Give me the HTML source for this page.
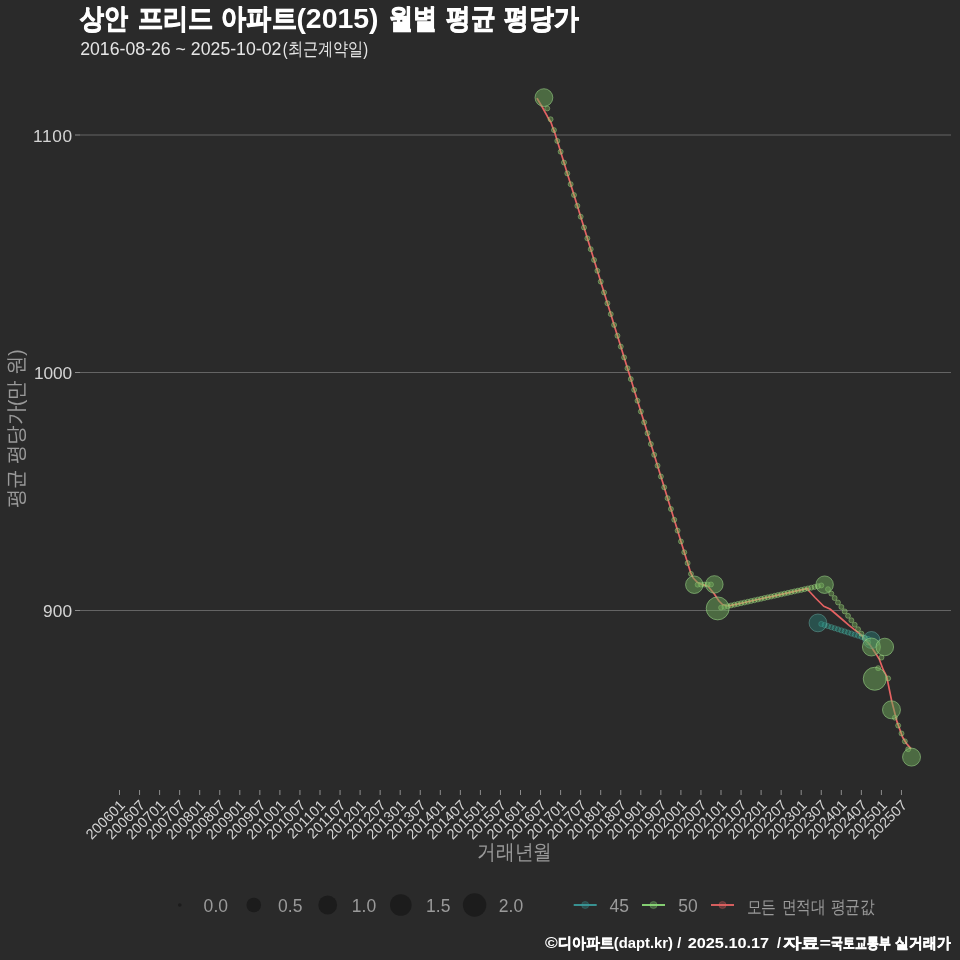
<!DOCTYPE html><html><head><meta charset="utf-8"><style>
html,body{margin:0;padding:0;background:#2a2a2a;width:960px;height:960px;overflow:hidden}
svg{display:block;will-change:transform}text{font-family:"Liberation Sans",sans-serif}
</style></head><body>
<svg width="960" height="960" viewBox="0 0 960 960">
<rect width="960" height="960" fill="#2a2a2a"/>
<text id="t0" x="80.20" y="28.30" font-size="27.5" font-weight="bold" fill="#ffffff" stroke="#ffffff" stroke-width="0.9" textLength="47.90" lengthAdjust="spacingAndGlyphs">상안</text>
<text id="t1" x="137.70" y="28.30" font-size="27.5" font-weight="bold" fill="#ffffff" stroke="#ffffff" stroke-width="0.9" textLength="75.60" lengthAdjust="spacingAndGlyphs">프리드</text>
<text id="t2" x="221.40" y="28.30" font-size="27.5" font-weight="bold" fill="#ffffff" stroke="#ffffff" stroke-width="0.9" textLength="75.20" lengthAdjust="spacingAndGlyphs">아파트</text>
<text id="t3" x="296.40" y="28.30" font-size="27.5" font-weight="bold" fill="#ffffff" textLength="82.20" lengthAdjust="spacingAndGlyphs">(2015)</text>
<text id="t4" x="388.60" y="28.30" font-size="27.5" font-weight="bold" fill="#ffffff" stroke="#ffffff" stroke-width="0.9" textLength="48.10" lengthAdjust="spacingAndGlyphs">월별</text>
<text id="t5" x="445.90" y="28.30" font-size="27.5" font-weight="bold" fill="#ffffff" stroke="#ffffff" stroke-width="0.9" textLength="49.30" lengthAdjust="spacingAndGlyphs">평균</text>
<text id="t6" x="504.30" y="28.30" font-size="27.5" font-weight="bold" fill="#ffffff" stroke="#ffffff" stroke-width="0.9" textLength="74.50" lengthAdjust="spacingAndGlyphs">평당가</text>
<text id="s0" x="80.20" y="54.50" font-size="17.5" fill="#e6e6e6" textLength="201.20" lengthAdjust="spacingAndGlyphs">2016-08-26 ~ 2025-10-02</text>
<text id="s1" x="282.70" y="54.50" font-size="17.5" fill="#e6e6e6" textLength="85.40" lengthAdjust="spacingAndGlyphs">(최근계약일)</text>
<line x1="80" x2="951" y1="135.00" y2="135.00" stroke="#646464" stroke-width="1"/>
<line x1="75" x2="80" y1="135.00" y2="135.00" stroke="#8c8c8c" stroke-width="1"/>
<line x1="80" x2="951" y1="372.50" y2="372.50" stroke="#646464" stroke-width="1"/>
<line x1="75" x2="80" y1="372.50" y2="372.50" stroke="#8c8c8c" stroke-width="1"/>
<line x1="80" x2="951" y1="610.50" y2="610.50" stroke="#646464" stroke-width="1"/>
<line x1="75" x2="80" y1="610.50" y2="610.50" stroke="#8c8c8c" stroke-width="1"/>
<text id="y1100" x="33.00" y="141.80" font-size="17.3" fill="#d4d4d4" textLength="39">1100</text>
<text id="y1000" x="34.00" y="379.30" font-size="17.3" fill="#d4d4d4" textLength="38">1000</text>
<text id="y900" x="43.00" y="617.30" font-size="17.3" fill="#d4d4d4" textLength="29">900</text>
<g transform="translate(23.2,0) rotate(-90)">
<text id="yt0" x="-508.40" y="0.00" font-size="20.5" fill="#9a9a9a" textLength="159.00" lengthAdjust="spacingAndGlyphs">평균 평당가(만 원)</text>
</g>
<line x1="119.50" x2="119.50" y1="790" y2="795" stroke="#8c8c8c" stroke-width="1"/>
<text id="xl0" transform="translate(126.00,806) rotate(-45)" font-size="14.5" fill="#d4d4d4" text-anchor="end">200601</text>
<line x1="139.55" x2="139.55" y1="790" y2="795" stroke="#8c8c8c" stroke-width="1"/>
<text id="xl1" transform="translate(146.05,806) rotate(-45)" font-size="14.5" fill="#d4d4d4" text-anchor="end">200607</text>
<line x1="159.60" x2="159.60" y1="790" y2="795" stroke="#8c8c8c" stroke-width="1"/>
<text id="xl2" transform="translate(166.10,806) rotate(-45)" font-size="14.5" fill="#d4d4d4" text-anchor="end">200701</text>
<line x1="179.65" x2="179.65" y1="790" y2="795" stroke="#8c8c8c" stroke-width="1"/>
<text id="xl3" transform="translate(186.15,806) rotate(-45)" font-size="14.5" fill="#d4d4d4" text-anchor="end">200707</text>
<line x1="199.70" x2="199.70" y1="790" y2="795" stroke="#8c8c8c" stroke-width="1"/>
<text id="xl4" transform="translate(206.20,806) rotate(-45)" font-size="14.5" fill="#d4d4d4" text-anchor="end">200801</text>
<line x1="219.75" x2="219.75" y1="790" y2="795" stroke="#8c8c8c" stroke-width="1"/>
<text id="xl5" transform="translate(226.25,806) rotate(-45)" font-size="14.5" fill="#d4d4d4" text-anchor="end">200807</text>
<line x1="239.80" x2="239.80" y1="790" y2="795" stroke="#8c8c8c" stroke-width="1"/>
<text id="xl6" transform="translate(246.30,806) rotate(-45)" font-size="14.5" fill="#d4d4d4" text-anchor="end">200901</text>
<line x1="259.85" x2="259.85" y1="790" y2="795" stroke="#8c8c8c" stroke-width="1"/>
<text id="xl7" transform="translate(266.35,806) rotate(-45)" font-size="14.5" fill="#d4d4d4" text-anchor="end">200907</text>
<line x1="279.90" x2="279.90" y1="790" y2="795" stroke="#8c8c8c" stroke-width="1"/>
<text id="xl8" transform="translate(286.40,806) rotate(-45)" font-size="14.5" fill="#d4d4d4" text-anchor="end">201001</text>
<line x1="299.95" x2="299.95" y1="790" y2="795" stroke="#8c8c8c" stroke-width="1"/>
<text id="xl9" transform="translate(306.45,806) rotate(-45)" font-size="14.5" fill="#d4d4d4" text-anchor="end">201007</text>
<line x1="320.00" x2="320.00" y1="790" y2="795" stroke="#8c8c8c" stroke-width="1"/>
<text id="xl10" transform="translate(326.50,806) rotate(-45)" font-size="14.5" fill="#d4d4d4" text-anchor="end">201101</text>
<line x1="340.05" x2="340.05" y1="790" y2="795" stroke="#8c8c8c" stroke-width="1"/>
<text id="xl11" transform="translate(346.55,806) rotate(-45)" font-size="14.5" fill="#d4d4d4" text-anchor="end">201107</text>
<line x1="360.10" x2="360.10" y1="790" y2="795" stroke="#8c8c8c" stroke-width="1"/>
<text id="xl12" transform="translate(366.60,806) rotate(-45)" font-size="14.5" fill="#d4d4d4" text-anchor="end">201201</text>
<line x1="380.15" x2="380.15" y1="790" y2="795" stroke="#8c8c8c" stroke-width="1"/>
<text id="xl13" transform="translate(386.65,806) rotate(-45)" font-size="14.5" fill="#d4d4d4" text-anchor="end">201207</text>
<line x1="400.20" x2="400.20" y1="790" y2="795" stroke="#8c8c8c" stroke-width="1"/>
<text id="xl14" transform="translate(406.70,806) rotate(-45)" font-size="14.5" fill="#d4d4d4" text-anchor="end">201301</text>
<line x1="420.25" x2="420.25" y1="790" y2="795" stroke="#8c8c8c" stroke-width="1"/>
<text id="xl15" transform="translate(426.75,806) rotate(-45)" font-size="14.5" fill="#d4d4d4" text-anchor="end">201307</text>
<line x1="440.30" x2="440.30" y1="790" y2="795" stroke="#8c8c8c" stroke-width="1"/>
<text id="xl16" transform="translate(446.80,806) rotate(-45)" font-size="14.5" fill="#d4d4d4" text-anchor="end">201401</text>
<line x1="460.35" x2="460.35" y1="790" y2="795" stroke="#8c8c8c" stroke-width="1"/>
<text id="xl17" transform="translate(466.85,806) rotate(-45)" font-size="14.5" fill="#d4d4d4" text-anchor="end">201407</text>
<line x1="480.40" x2="480.40" y1="790" y2="795" stroke="#8c8c8c" stroke-width="1"/>
<text id="xl18" transform="translate(486.90,806) rotate(-45)" font-size="14.5" fill="#d4d4d4" text-anchor="end">201501</text>
<line x1="500.45" x2="500.45" y1="790" y2="795" stroke="#8c8c8c" stroke-width="1"/>
<text id="xl19" transform="translate(506.95,806) rotate(-45)" font-size="14.5" fill="#d4d4d4" text-anchor="end">201507</text>
<line x1="520.50" x2="520.50" y1="790" y2="795" stroke="#8c8c8c" stroke-width="1"/>
<text id="xl20" transform="translate(527.00,806) rotate(-45)" font-size="14.5" fill="#d4d4d4" text-anchor="end">201601</text>
<line x1="540.55" x2="540.55" y1="790" y2="795" stroke="#8c8c8c" stroke-width="1"/>
<text id="xl21" transform="translate(547.05,806) rotate(-45)" font-size="14.5" fill="#d4d4d4" text-anchor="end">201607</text>
<line x1="560.60" x2="560.60" y1="790" y2="795" stroke="#8c8c8c" stroke-width="1"/>
<text id="xl22" transform="translate(567.10,806) rotate(-45)" font-size="14.5" fill="#d4d4d4" text-anchor="end">201701</text>
<line x1="580.65" x2="580.65" y1="790" y2="795" stroke="#8c8c8c" stroke-width="1"/>
<text id="xl23" transform="translate(587.15,806) rotate(-45)" font-size="14.5" fill="#d4d4d4" text-anchor="end">201707</text>
<line x1="600.70" x2="600.70" y1="790" y2="795" stroke="#8c8c8c" stroke-width="1"/>
<text id="xl24" transform="translate(607.20,806) rotate(-45)" font-size="14.5" fill="#d4d4d4" text-anchor="end">201801</text>
<line x1="620.75" x2="620.75" y1="790" y2="795" stroke="#8c8c8c" stroke-width="1"/>
<text id="xl25" transform="translate(627.25,806) rotate(-45)" font-size="14.5" fill="#d4d4d4" text-anchor="end">201807</text>
<line x1="640.80" x2="640.80" y1="790" y2="795" stroke="#8c8c8c" stroke-width="1"/>
<text id="xl26" transform="translate(647.30,806) rotate(-45)" font-size="14.5" fill="#d4d4d4" text-anchor="end">201901</text>
<line x1="660.85" x2="660.85" y1="790" y2="795" stroke="#8c8c8c" stroke-width="1"/>
<text id="xl27" transform="translate(667.35,806) rotate(-45)" font-size="14.5" fill="#d4d4d4" text-anchor="end">201907</text>
<line x1="680.90" x2="680.90" y1="790" y2="795" stroke="#8c8c8c" stroke-width="1"/>
<text id="xl28" transform="translate(687.40,806) rotate(-45)" font-size="14.5" fill="#d4d4d4" text-anchor="end">202001</text>
<line x1="700.95" x2="700.95" y1="790" y2="795" stroke="#8c8c8c" stroke-width="1"/>
<text id="xl29" transform="translate(707.45,806) rotate(-45)" font-size="14.5" fill="#d4d4d4" text-anchor="end">202007</text>
<line x1="721.00" x2="721.00" y1="790" y2="795" stroke="#8c8c8c" stroke-width="1"/>
<text id="xl30" transform="translate(727.50,806) rotate(-45)" font-size="14.5" fill="#d4d4d4" text-anchor="end">202101</text>
<line x1="741.05" x2="741.05" y1="790" y2="795" stroke="#8c8c8c" stroke-width="1"/>
<text id="xl31" transform="translate(747.55,806) rotate(-45)" font-size="14.5" fill="#d4d4d4" text-anchor="end">202107</text>
<line x1="761.10" x2="761.10" y1="790" y2="795" stroke="#8c8c8c" stroke-width="1"/>
<text id="xl32" transform="translate(767.60,806) rotate(-45)" font-size="14.5" fill="#d4d4d4" text-anchor="end">202201</text>
<line x1="781.15" x2="781.15" y1="790" y2="795" stroke="#8c8c8c" stroke-width="1"/>
<text id="xl33" transform="translate(787.65,806) rotate(-45)" font-size="14.5" fill="#d4d4d4" text-anchor="end">202207</text>
<line x1="801.20" x2="801.20" y1="790" y2="795" stroke="#8c8c8c" stroke-width="1"/>
<text id="xl34" transform="translate(807.70,806) rotate(-45)" font-size="14.5" fill="#d4d4d4" text-anchor="end">202301</text>
<line x1="821.25" x2="821.25" y1="790" y2="795" stroke="#8c8c8c" stroke-width="1"/>
<text id="xl35" transform="translate(827.75,806) rotate(-45)" font-size="14.5" fill="#d4d4d4" text-anchor="end">202307</text>
<line x1="841.30" x2="841.30" y1="790" y2="795" stroke="#8c8c8c" stroke-width="1"/>
<text id="xl36" transform="translate(847.80,806) rotate(-45)" font-size="14.5" fill="#d4d4d4" text-anchor="end">202401</text>
<line x1="861.35" x2="861.35" y1="790" y2="795" stroke="#8c8c8c" stroke-width="1"/>
<text id="xl37" transform="translate(867.85,806) rotate(-45)" font-size="14.5" fill="#d4d4d4" text-anchor="end">202407</text>
<line x1="881.40" x2="881.40" y1="790" y2="795" stroke="#8c8c8c" stroke-width="1"/>
<text id="xl38" transform="translate(887.90,806) rotate(-45)" font-size="14.5" fill="#d4d4d4" text-anchor="end">202501</text>
<line x1="901.45" x2="901.45" y1="790" y2="795" stroke="#8c8c8c" stroke-width="1"/>
<text id="xl39" transform="translate(907.95,806) rotate(-45)" font-size="14.5" fill="#d4d4d4" text-anchor="end">202507</text>
<text id="xt0" x="477.00" y="859.00" font-size="20.5" fill="#9a9a9a" textLength="75.00" lengthAdjust="spacingAndGlyphs">거래년월</text>
<circle cx="179.80" cy="905" r="1.80" fill="#1c1c1c"/>
<text id="ls00" x="203.60" y="912.3" font-size="17.5" fill="#9a9a9a" textLength="24.5">0.0</text>
<circle cx="253.75" cy="905" r="7.30" fill="#1c1c1c"/>
<text id="ls05" x="277.95" y="912.3" font-size="17.5" fill="#9a9a9a" textLength="24.5">0.5</text>
<circle cx="327.70" cy="905" r="9.40" fill="#1c1c1c"/>
<text id="ls10" x="351.70" y="912.3" font-size="17.5" fill="#9a9a9a" textLength="24.5">1.0</text>
<circle cx="400.80" cy="905" r="10.80" fill="#1c1c1c"/>
<text id="ls15" x="425.90" y="912.3" font-size="17.5" fill="#9a9a9a" textLength="24.5">1.5</text>
<circle cx="474.60" cy="905" r="11.70" fill="#1c1c1c"/>
<text id="ls20" x="498.80" y="912.3" font-size="17.5" fill="#9a9a9a" textLength="24.5">2.0</text>
<circle cx="585.20" cy="905" r="3.6" fill="#3a9c9c" fill-opacity="0.3" stroke="#3a9c9c" stroke-opacity="0.35" stroke-width="0.8"/>
<line x1="573.70" x2="596.70" y1="905" y2="905" stroke="#3a9c9c" stroke-width="2" stroke-opacity="0.9"/>
<text id="lc573" x="609.50" y="912.3" font-size="17.5" fill="#9a9a9a" textLength="19.5">45</text>
<circle cx="653.50" cy="905" r="3.6" fill="#8ee07a" fill-opacity="0.3" stroke="#8ee07a" stroke-opacity="0.35" stroke-width="0.8"/>
<line x1="642.00" x2="665.00" y1="905" y2="905" stroke="#8ee07a" stroke-width="2" stroke-opacity="0.9"/>
<text id="lc642" x="678.30" y="912.3" font-size="17.5" fill="#9a9a9a" textLength="19.5">50</text>
<circle cx="722.5" cy="905" r="3.6" fill="#e86464" fill-opacity="0.3" stroke="#e86464" stroke-opacity="0.35" stroke-width="0.8"/>
<line x1="711" x2="734" y1="905" y2="905" stroke="#e86464" stroke-width="2" stroke-opacity="0.9"/>
<text id="lr0" x="746.70" y="912.50" font-size="17.5" fill="#9a9a9a" textLength="29.60" lengthAdjust="spacingAndGlyphs">모든</text>
<text id="lr1" x="781.70" y="912.50" font-size="17.5" fill="#9a9a9a" textLength="44.20" lengthAdjust="spacingAndGlyphs">면적대</text>
<text id="lr2" x="830.50" y="912.50" font-size="17.5" fill="#9a9a9a" textLength="44.30" lengthAdjust="spacingAndGlyphs">평균값</text>
<text id="c0" x="544.90" y="948.30" font-size="14.5" font-weight="bold" fill="#ffffff" textLength="12.70" lengthAdjust="spacingAndGlyphs">©</text>
<text id="c1" x="558.00" y="948.30" font-size="14.5" font-weight="bold" fill="#ffffff" stroke="#ffffff" stroke-width="0.5" textLength="55.90" lengthAdjust="spacingAndGlyphs">디아파트</text>
<text id="c2" x="613.80" y="948.30" font-size="14.5" font-weight="bold" fill="#ffffff" textLength="59.20" lengthAdjust="spacingAndGlyphs">(dapt.kr)</text>
<text id="c3" x="677.20" y="948.30" font-size="14.5" font-weight="bold" fill="#ffffff">/</text>
<text id="c4" x="687.70" y="948.30" font-size="14.5" font-weight="bold" fill="#ffffff" textLength="81.50" lengthAdjust="spacingAndGlyphs">2025.10.17</text>
<text id="c5" x="777.10" y="948.30" font-size="14.5" font-weight="bold" fill="#ffffff">/</text>
<text id="c6" x="782.90" y="948.30" font-size="14.5" font-weight="bold" fill="#ffffff" stroke="#ffffff" stroke-width="0.5" textLength="36.70" lengthAdjust="spacingAndGlyphs">자료</text>
<text id="c7" x="819.60" y="948.30" font-size="14.5" font-weight="bold" fill="#ffffff" textLength="11.50" lengthAdjust="spacingAndGlyphs">=</text>
<text id="c8" x="831.10" y="948.30" font-size="14.5" font-weight="bold" fill="#ffffff" stroke="#ffffff" stroke-width="0.5" textLength="59.50" lengthAdjust="spacingAndGlyphs">국토교통부</text>
<text id="c9" x="895.20" y="948.30" font-size="14.5" font-weight="bold" fill="#ffffff" stroke="#ffffff" stroke-width="0.5" textLength="55.10" lengthAdjust="spacingAndGlyphs">실거래가</text>
<polyline fill="none" stroke="#e46262" stroke-width="1.7" stroke-linejoin="round" stroke-linecap="round" points="537.30,98.75 542.50,107.50 547.50,116.70 551.00,122.50 554.50,132.50 553.94,130.08 557.29,140.90 560.63,151.73 563.97,162.55 567.31,173.38 570.65,184.20 574.00,195.03 577.34,205.86 580.68,216.68 584.02,227.51 587.36,238.33 590.71,249.16 594.05,259.98 597.39,270.81 600.73,281.63 604.07,292.46 607.41,303.29 610.76,314.11 614.10,324.94 617.44,335.76 620.78,346.59 624.12,357.41 627.47,368.24 630.81,379.06 634.15,389.89 637.49,400.72 640.83,411.54 644.18,422.37 647.52,433.19 650.86,444.02 654.20,454.84 657.54,465.67 660.88,476.49 664.23,487.32 667.57,498.15 670.91,508.97 674.25,519.80 677.59,530.62 680.94,541.45 684.28,552.27 687.62,563.10 690.60,572.50 693.20,578.00 697.50,582.50 702.00,584.60 707.50,585.80 714.00,593.50 719.00,601.00 722.50,604.50 726.00,605.80 731.06,605.44 734.41,604.70 737.75,603.96 741.09,603.22 744.43,602.48 747.77,601.73 751.12,600.99 754.46,600.25 757.80,599.51 761.14,598.77 764.48,598.03 767.82,597.29 771.17,596.55 774.51,595.81 777.85,595.07 781.19,594.33 784.53,593.59 787.88,592.85 791.22,592.11 794.56,591.37 797.90,590.62 801.24,589.88 804.59,589.14 807.93,588.40 808.10,590.00 815.00,597.50 823.75,606.25 830.00,609.00 840.00,617.50 849.40,625.60 862.00,635.60 870.00,645.00 876.00,653.90 879.20,659.00 883.30,670.00 886.60,676.20 891.70,701.00 896.90,721.40 902.70,737.50 906.50,743.50 910.70,748.40"/>
<circle cx="821.29" cy="623.97" r="2.6" fill="rgb(40,150,135)" fill-opacity="0.35" stroke="rgb(90,180,165)" stroke-opacity="0.45" stroke-width="0.8"/>
<circle cx="824.64" cy="625.04" r="2.6" fill="rgb(40,150,135)" fill-opacity="0.35" stroke="rgb(90,180,165)" stroke-opacity="0.45" stroke-width="0.8"/>
<circle cx="827.98" cy="626.11" r="2.6" fill="rgb(40,150,135)" fill-opacity="0.35" stroke="rgb(90,180,165)" stroke-opacity="0.45" stroke-width="0.8"/>
<circle cx="831.32" cy="627.17" r="2.6" fill="rgb(40,150,135)" fill-opacity="0.35" stroke="rgb(90,180,165)" stroke-opacity="0.45" stroke-width="0.8"/>
<circle cx="834.66" cy="628.24" r="2.6" fill="rgb(40,150,135)" fill-opacity="0.35" stroke="rgb(90,180,165)" stroke-opacity="0.45" stroke-width="0.8"/>
<circle cx="838.00" cy="629.31" r="2.6" fill="rgb(40,150,135)" fill-opacity="0.35" stroke="rgb(90,180,165)" stroke-opacity="0.45" stroke-width="0.8"/>
<circle cx="841.35" cy="630.38" r="2.6" fill="rgb(40,150,135)" fill-opacity="0.35" stroke="rgb(90,180,165)" stroke-opacity="0.45" stroke-width="0.8"/>
<circle cx="844.69" cy="631.45" r="2.6" fill="rgb(40,150,135)" fill-opacity="0.35" stroke="rgb(90,180,165)" stroke-opacity="0.45" stroke-width="0.8"/>
<circle cx="848.03" cy="632.52" r="2.6" fill="rgb(40,150,135)" fill-opacity="0.35" stroke="rgb(90,180,165)" stroke-opacity="0.45" stroke-width="0.8"/>
<circle cx="851.37" cy="633.59" r="2.6" fill="rgb(40,150,135)" fill-opacity="0.35" stroke="rgb(90,180,165)" stroke-opacity="0.45" stroke-width="0.8"/>
<circle cx="854.71" cy="634.66" r="2.6" fill="rgb(40,150,135)" fill-opacity="0.35" stroke="rgb(90,180,165)" stroke-opacity="0.45" stroke-width="0.8"/>
<circle cx="858.06" cy="635.73" r="2.6" fill="rgb(40,150,135)" fill-opacity="0.35" stroke="rgb(90,180,165)" stroke-opacity="0.45" stroke-width="0.8"/>
<circle cx="861.40" cy="636.79" r="2.6" fill="rgb(40,150,135)" fill-opacity="0.35" stroke="rgb(90,180,165)" stroke-opacity="0.45" stroke-width="0.8"/>
<circle cx="864.74" cy="637.86" r="2.6" fill="rgb(40,150,135)" fill-opacity="0.35" stroke="rgb(90,180,165)" stroke-opacity="0.45" stroke-width="0.8"/>
<circle cx="868.08" cy="638.93" r="2.6" fill="rgb(40,150,135)" fill-opacity="0.35" stroke="rgb(90,180,165)" stroke-opacity="0.45" stroke-width="0.8"/>
<circle cx="547.26" cy="108.43" r="2.5" fill="rgb(140,210,100)" fill-opacity="0.35" stroke="rgb(165,220,135)" stroke-opacity="0.55" stroke-width="0.8"/>
<circle cx="550.60" cy="119.25" r="2.5" fill="rgb(140,210,100)" fill-opacity="0.35" stroke="rgb(165,220,135)" stroke-opacity="0.55" stroke-width="0.8"/>
<circle cx="553.94" cy="130.08" r="2.5" fill="rgb(140,210,100)" fill-opacity="0.35" stroke="rgb(165,220,135)" stroke-opacity="0.55" stroke-width="0.8"/>
<circle cx="557.29" cy="140.90" r="2.5" fill="rgb(140,210,100)" fill-opacity="0.35" stroke="rgb(165,220,135)" stroke-opacity="0.55" stroke-width="0.8"/>
<circle cx="560.63" cy="151.73" r="2.5" fill="rgb(140,210,100)" fill-opacity="0.35" stroke="rgb(165,220,135)" stroke-opacity="0.55" stroke-width="0.8"/>
<circle cx="563.97" cy="162.55" r="2.5" fill="rgb(140,210,100)" fill-opacity="0.35" stroke="rgb(165,220,135)" stroke-opacity="0.55" stroke-width="0.8"/>
<circle cx="567.31" cy="173.38" r="2.5" fill="rgb(140,210,100)" fill-opacity="0.35" stroke="rgb(165,220,135)" stroke-opacity="0.55" stroke-width="0.8"/>
<circle cx="570.65" cy="184.20" r="2.5" fill="rgb(140,210,100)" fill-opacity="0.35" stroke="rgb(165,220,135)" stroke-opacity="0.55" stroke-width="0.8"/>
<circle cx="574.00" cy="195.03" r="2.5" fill="rgb(140,210,100)" fill-opacity="0.35" stroke="rgb(165,220,135)" stroke-opacity="0.55" stroke-width="0.8"/>
<circle cx="577.34" cy="205.86" r="2.5" fill="rgb(140,210,100)" fill-opacity="0.35" stroke="rgb(165,220,135)" stroke-opacity="0.55" stroke-width="0.8"/>
<circle cx="580.68" cy="216.68" r="2.5" fill="rgb(140,210,100)" fill-opacity="0.35" stroke="rgb(165,220,135)" stroke-opacity="0.55" stroke-width="0.8"/>
<circle cx="584.02" cy="227.51" r="2.5" fill="rgb(140,210,100)" fill-opacity="0.35" stroke="rgb(165,220,135)" stroke-opacity="0.55" stroke-width="0.8"/>
<circle cx="587.36" cy="238.33" r="2.5" fill="rgb(140,210,100)" fill-opacity="0.35" stroke="rgb(165,220,135)" stroke-opacity="0.55" stroke-width="0.8"/>
<circle cx="590.71" cy="249.16" r="2.5" fill="rgb(140,210,100)" fill-opacity="0.35" stroke="rgb(165,220,135)" stroke-opacity="0.55" stroke-width="0.8"/>
<circle cx="594.05" cy="259.98" r="2.5" fill="rgb(140,210,100)" fill-opacity="0.35" stroke="rgb(165,220,135)" stroke-opacity="0.55" stroke-width="0.8"/>
<circle cx="597.39" cy="270.81" r="2.5" fill="rgb(140,210,100)" fill-opacity="0.35" stroke="rgb(165,220,135)" stroke-opacity="0.55" stroke-width="0.8"/>
<circle cx="600.73" cy="281.63" r="2.5" fill="rgb(140,210,100)" fill-opacity="0.35" stroke="rgb(165,220,135)" stroke-opacity="0.55" stroke-width="0.8"/>
<circle cx="604.07" cy="292.46" r="2.5" fill="rgb(140,210,100)" fill-opacity="0.35" stroke="rgb(165,220,135)" stroke-opacity="0.55" stroke-width="0.8"/>
<circle cx="607.41" cy="303.29" r="2.5" fill="rgb(140,210,100)" fill-opacity="0.35" stroke="rgb(165,220,135)" stroke-opacity="0.55" stroke-width="0.8"/>
<circle cx="610.76" cy="314.11" r="2.5" fill="rgb(140,210,100)" fill-opacity="0.35" stroke="rgb(165,220,135)" stroke-opacity="0.55" stroke-width="0.8"/>
<circle cx="614.10" cy="324.94" r="2.5" fill="rgb(140,210,100)" fill-opacity="0.35" stroke="rgb(165,220,135)" stroke-opacity="0.55" stroke-width="0.8"/>
<circle cx="617.44" cy="335.76" r="2.5" fill="rgb(140,210,100)" fill-opacity="0.35" stroke="rgb(165,220,135)" stroke-opacity="0.55" stroke-width="0.8"/>
<circle cx="620.78" cy="346.59" r="2.5" fill="rgb(140,210,100)" fill-opacity="0.35" stroke="rgb(165,220,135)" stroke-opacity="0.55" stroke-width="0.8"/>
<circle cx="624.12" cy="357.41" r="2.5" fill="rgb(140,210,100)" fill-opacity="0.35" stroke="rgb(165,220,135)" stroke-opacity="0.55" stroke-width="0.8"/>
<circle cx="627.47" cy="368.24" r="2.5" fill="rgb(140,210,100)" fill-opacity="0.35" stroke="rgb(165,220,135)" stroke-opacity="0.55" stroke-width="0.8"/>
<circle cx="630.81" cy="379.06" r="2.5" fill="rgb(140,210,100)" fill-opacity="0.35" stroke="rgb(165,220,135)" stroke-opacity="0.55" stroke-width="0.8"/>
<circle cx="634.15" cy="389.89" r="2.5" fill="rgb(140,210,100)" fill-opacity="0.35" stroke="rgb(165,220,135)" stroke-opacity="0.55" stroke-width="0.8"/>
<circle cx="637.49" cy="400.72" r="2.5" fill="rgb(140,210,100)" fill-opacity="0.35" stroke="rgb(165,220,135)" stroke-opacity="0.55" stroke-width="0.8"/>
<circle cx="640.83" cy="411.54" r="2.5" fill="rgb(140,210,100)" fill-opacity="0.35" stroke="rgb(165,220,135)" stroke-opacity="0.55" stroke-width="0.8"/>
<circle cx="644.18" cy="422.37" r="2.5" fill="rgb(140,210,100)" fill-opacity="0.35" stroke="rgb(165,220,135)" stroke-opacity="0.55" stroke-width="0.8"/>
<circle cx="647.52" cy="433.19" r="2.5" fill="rgb(140,210,100)" fill-opacity="0.35" stroke="rgb(165,220,135)" stroke-opacity="0.55" stroke-width="0.8"/>
<circle cx="650.86" cy="444.02" r="2.5" fill="rgb(140,210,100)" fill-opacity="0.35" stroke="rgb(165,220,135)" stroke-opacity="0.55" stroke-width="0.8"/>
<circle cx="654.20" cy="454.84" r="2.5" fill="rgb(140,210,100)" fill-opacity="0.35" stroke="rgb(165,220,135)" stroke-opacity="0.55" stroke-width="0.8"/>
<circle cx="657.54" cy="465.67" r="2.5" fill="rgb(140,210,100)" fill-opacity="0.35" stroke="rgb(165,220,135)" stroke-opacity="0.55" stroke-width="0.8"/>
<circle cx="660.88" cy="476.49" r="2.5" fill="rgb(140,210,100)" fill-opacity="0.35" stroke="rgb(165,220,135)" stroke-opacity="0.55" stroke-width="0.8"/>
<circle cx="664.23" cy="487.32" r="2.5" fill="rgb(140,210,100)" fill-opacity="0.35" stroke="rgb(165,220,135)" stroke-opacity="0.55" stroke-width="0.8"/>
<circle cx="667.57" cy="498.15" r="2.5" fill="rgb(140,210,100)" fill-opacity="0.35" stroke="rgb(165,220,135)" stroke-opacity="0.55" stroke-width="0.8"/>
<circle cx="670.91" cy="508.97" r="2.5" fill="rgb(140,210,100)" fill-opacity="0.35" stroke="rgb(165,220,135)" stroke-opacity="0.55" stroke-width="0.8"/>
<circle cx="674.25" cy="519.80" r="2.5" fill="rgb(140,210,100)" fill-opacity="0.35" stroke="rgb(165,220,135)" stroke-opacity="0.55" stroke-width="0.8"/>
<circle cx="677.59" cy="530.62" r="2.5" fill="rgb(140,210,100)" fill-opacity="0.35" stroke="rgb(165,220,135)" stroke-opacity="0.55" stroke-width="0.8"/>
<circle cx="680.94" cy="541.45" r="2.5" fill="rgb(140,210,100)" fill-opacity="0.35" stroke="rgb(165,220,135)" stroke-opacity="0.55" stroke-width="0.8"/>
<circle cx="684.28" cy="552.27" r="2.5" fill="rgb(140,210,100)" fill-opacity="0.35" stroke="rgb(165,220,135)" stroke-opacity="0.55" stroke-width="0.8"/>
<circle cx="687.62" cy="563.10" r="2.5" fill="rgb(140,210,100)" fill-opacity="0.35" stroke="rgb(165,220,135)" stroke-opacity="0.55" stroke-width="0.8"/>
<circle cx="690.96" cy="573.92" r="2.5" fill="rgb(140,210,100)" fill-opacity="0.35" stroke="rgb(165,220,135)" stroke-opacity="0.55" stroke-width="0.8"/>
<circle cx="697.65" cy="584.69" r="2.5" fill="rgb(140,210,100)" fill-opacity="0.35" stroke="rgb(165,220,135)" stroke-opacity="0.55" stroke-width="0.8"/>
<circle cx="700.99" cy="584.63" r="2.5" fill="rgb(140,210,100)" fill-opacity="0.35" stroke="rgb(165,220,135)" stroke-opacity="0.55" stroke-width="0.8"/>
<circle cx="704.33" cy="584.58" r="2.5" fill="rgb(140,210,100)" fill-opacity="0.35" stroke="rgb(165,220,135)" stroke-opacity="0.55" stroke-width="0.8"/>
<circle cx="707.67" cy="584.52" r="2.5" fill="rgb(140,210,100)" fill-opacity="0.35" stroke="rgb(165,220,135)" stroke-opacity="0.55" stroke-width="0.8"/>
<circle cx="711.01" cy="584.46" r="2.5" fill="rgb(140,210,100)" fill-opacity="0.35" stroke="rgb(165,220,135)" stroke-opacity="0.55" stroke-width="0.8"/>
<circle cx="721.04" cy="607.66" r="2.5" fill="rgb(140,210,100)" fill-opacity="0.35" stroke="rgb(165,220,135)" stroke-opacity="0.55" stroke-width="0.8"/>
<circle cx="724.38" cy="606.92" r="2.5" fill="rgb(140,210,100)" fill-opacity="0.35" stroke="rgb(165,220,135)" stroke-opacity="0.55" stroke-width="0.8"/>
<circle cx="727.72" cy="606.18" r="2.5" fill="rgb(140,210,100)" fill-opacity="0.35" stroke="rgb(165,220,135)" stroke-opacity="0.55" stroke-width="0.8"/>
<circle cx="731.06" cy="605.44" r="2.5" fill="rgb(140,210,100)" fill-opacity="0.35" stroke="rgb(165,220,135)" stroke-opacity="0.55" stroke-width="0.8"/>
<circle cx="734.41" cy="604.70" r="2.5" fill="rgb(140,210,100)" fill-opacity="0.35" stroke="rgb(165,220,135)" stroke-opacity="0.55" stroke-width="0.8"/>
<circle cx="737.75" cy="603.96" r="2.5" fill="rgb(140,210,100)" fill-opacity="0.35" stroke="rgb(165,220,135)" stroke-opacity="0.55" stroke-width="0.8"/>
<circle cx="741.09" cy="603.22" r="2.5" fill="rgb(140,210,100)" fill-opacity="0.35" stroke="rgb(165,220,135)" stroke-opacity="0.55" stroke-width="0.8"/>
<circle cx="744.43" cy="602.48" r="2.5" fill="rgb(140,210,100)" fill-opacity="0.35" stroke="rgb(165,220,135)" stroke-opacity="0.55" stroke-width="0.8"/>
<circle cx="747.77" cy="601.73" r="2.5" fill="rgb(140,210,100)" fill-opacity="0.35" stroke="rgb(165,220,135)" stroke-opacity="0.55" stroke-width="0.8"/>
<circle cx="751.12" cy="600.99" r="2.5" fill="rgb(140,210,100)" fill-opacity="0.35" stroke="rgb(165,220,135)" stroke-opacity="0.55" stroke-width="0.8"/>
<circle cx="754.46" cy="600.25" r="2.5" fill="rgb(140,210,100)" fill-opacity="0.35" stroke="rgb(165,220,135)" stroke-opacity="0.55" stroke-width="0.8"/>
<circle cx="757.80" cy="599.51" r="2.5" fill="rgb(140,210,100)" fill-opacity="0.35" stroke="rgb(165,220,135)" stroke-opacity="0.55" stroke-width="0.8"/>
<circle cx="761.14" cy="598.77" r="2.5" fill="rgb(140,210,100)" fill-opacity="0.35" stroke="rgb(165,220,135)" stroke-opacity="0.55" stroke-width="0.8"/>
<circle cx="764.48" cy="598.03" r="2.5" fill="rgb(140,210,100)" fill-opacity="0.35" stroke="rgb(165,220,135)" stroke-opacity="0.55" stroke-width="0.8"/>
<circle cx="767.82" cy="597.29" r="2.5" fill="rgb(140,210,100)" fill-opacity="0.35" stroke="rgb(165,220,135)" stroke-opacity="0.55" stroke-width="0.8"/>
<circle cx="771.17" cy="596.55" r="2.5" fill="rgb(140,210,100)" fill-opacity="0.35" stroke="rgb(165,220,135)" stroke-opacity="0.55" stroke-width="0.8"/>
<circle cx="774.51" cy="595.81" r="2.5" fill="rgb(140,210,100)" fill-opacity="0.35" stroke="rgb(165,220,135)" stroke-opacity="0.55" stroke-width="0.8"/>
<circle cx="777.85" cy="595.07" r="2.5" fill="rgb(140,210,100)" fill-opacity="0.35" stroke="rgb(165,220,135)" stroke-opacity="0.55" stroke-width="0.8"/>
<circle cx="781.19" cy="594.33" r="2.5" fill="rgb(140,210,100)" fill-opacity="0.35" stroke="rgb(165,220,135)" stroke-opacity="0.55" stroke-width="0.8"/>
<circle cx="784.53" cy="593.59" r="2.5" fill="rgb(140,210,100)" fill-opacity="0.35" stroke="rgb(165,220,135)" stroke-opacity="0.55" stroke-width="0.8"/>
<circle cx="787.88" cy="592.85" r="2.5" fill="rgb(140,210,100)" fill-opacity="0.35" stroke="rgb(165,220,135)" stroke-opacity="0.55" stroke-width="0.8"/>
<circle cx="791.22" cy="592.11" r="2.5" fill="rgb(140,210,100)" fill-opacity="0.35" stroke="rgb(165,220,135)" stroke-opacity="0.55" stroke-width="0.8"/>
<circle cx="794.56" cy="591.37" r="2.5" fill="rgb(140,210,100)" fill-opacity="0.35" stroke="rgb(165,220,135)" stroke-opacity="0.55" stroke-width="0.8"/>
<circle cx="797.90" cy="590.62" r="2.5" fill="rgb(140,210,100)" fill-opacity="0.35" stroke="rgb(165,220,135)" stroke-opacity="0.55" stroke-width="0.8"/>
<circle cx="801.24" cy="589.88" r="2.5" fill="rgb(140,210,100)" fill-opacity="0.35" stroke="rgb(165,220,135)" stroke-opacity="0.55" stroke-width="0.8"/>
<circle cx="804.59" cy="589.14" r="2.5" fill="rgb(140,210,100)" fill-opacity="0.35" stroke="rgb(165,220,135)" stroke-opacity="0.55" stroke-width="0.8"/>
<circle cx="807.93" cy="588.40" r="2.5" fill="rgb(140,210,100)" fill-opacity="0.35" stroke="rgb(165,220,135)" stroke-opacity="0.55" stroke-width="0.8"/>
<circle cx="811.27" cy="587.66" r="2.5" fill="rgb(140,210,100)" fill-opacity="0.35" stroke="rgb(165,220,135)" stroke-opacity="0.55" stroke-width="0.8"/>
<circle cx="814.61" cy="586.92" r="2.5" fill="rgb(140,210,100)" fill-opacity="0.35" stroke="rgb(165,220,135)" stroke-opacity="0.55" stroke-width="0.8"/>
<circle cx="817.95" cy="586.18" r="2.5" fill="rgb(140,210,100)" fill-opacity="0.35" stroke="rgb(165,220,135)" stroke-opacity="0.55" stroke-width="0.8"/>
<circle cx="821.29" cy="585.44" r="2.5" fill="rgb(140,210,100)" fill-opacity="0.35" stroke="rgb(165,220,135)" stroke-opacity="0.55" stroke-width="0.8"/>
<circle cx="827.98" cy="589.15" r="2.5" fill="rgb(140,210,100)" fill-opacity="0.35" stroke="rgb(165,220,135)" stroke-opacity="0.55" stroke-width="0.8"/>
<circle cx="831.32" cy="593.60" r="2.5" fill="rgb(140,210,100)" fill-opacity="0.35" stroke="rgb(165,220,135)" stroke-opacity="0.55" stroke-width="0.8"/>
<circle cx="834.66" cy="598.05" r="2.5" fill="rgb(140,210,100)" fill-opacity="0.35" stroke="rgb(165,220,135)" stroke-opacity="0.55" stroke-width="0.8"/>
<circle cx="838.00" cy="602.50" r="2.5" fill="rgb(140,210,100)" fill-opacity="0.35" stroke="rgb(165,220,135)" stroke-opacity="0.55" stroke-width="0.8"/>
<circle cx="841.35" cy="606.95" r="2.5" fill="rgb(140,210,100)" fill-opacity="0.35" stroke="rgb(165,220,135)" stroke-opacity="0.55" stroke-width="0.8"/>
<circle cx="844.69" cy="611.40" r="2.5" fill="rgb(140,210,100)" fill-opacity="0.35" stroke="rgb(165,220,135)" stroke-opacity="0.55" stroke-width="0.8"/>
<circle cx="848.03" cy="615.85" r="2.5" fill="rgb(140,210,100)" fill-opacity="0.35" stroke="rgb(165,220,135)" stroke-opacity="0.55" stroke-width="0.8"/>
<circle cx="851.37" cy="620.30" r="2.5" fill="rgb(140,210,100)" fill-opacity="0.35" stroke="rgb(165,220,135)" stroke-opacity="0.55" stroke-width="0.8"/>
<circle cx="854.71" cy="624.75" r="2.5" fill="rgb(140,210,100)" fill-opacity="0.35" stroke="rgb(165,220,135)" stroke-opacity="0.55" stroke-width="0.8"/>
<circle cx="858.06" cy="629.20" r="2.5" fill="rgb(140,210,100)" fill-opacity="0.35" stroke="rgb(165,220,135)" stroke-opacity="0.55" stroke-width="0.8"/>
<circle cx="861.40" cy="633.65" r="2.5" fill="rgb(140,210,100)" fill-opacity="0.35" stroke="rgb(165,220,135)" stroke-opacity="0.55" stroke-width="0.8"/>
<circle cx="864.74" cy="638.10" r="2.5" fill="rgb(140,210,100)" fill-opacity="0.35" stroke="rgb(165,220,135)" stroke-opacity="0.55" stroke-width="0.8"/>
<circle cx="868.08" cy="642.55" r="2.5" fill="rgb(140,210,100)" fill-opacity="0.35" stroke="rgb(165,220,135)" stroke-opacity="0.55" stroke-width="0.8"/>
<circle cx="878.11" cy="668.17" r="2.5" fill="rgb(140,210,100)" fill-opacity="0.35" stroke="rgb(165,220,135)" stroke-opacity="0.55" stroke-width="0.8"/>
<circle cx="881.45" cy="657.58" r="2.5" fill="rgb(140,210,100)" fill-opacity="0.35" stroke="rgb(165,220,135)" stroke-opacity="0.55" stroke-width="0.8"/>
<circle cx="888.13" cy="678.40" r="2.5" fill="rgb(140,210,100)" fill-opacity="0.35" stroke="rgb(165,220,135)" stroke-opacity="0.55" stroke-width="0.8"/>
<circle cx="894.82" cy="717.68" r="2.5" fill="rgb(140,210,100)" fill-opacity="0.35" stroke="rgb(165,220,135)" stroke-opacity="0.55" stroke-width="0.8"/>
<circle cx="898.16" cy="725.57" r="2.5" fill="rgb(140,210,100)" fill-opacity="0.35" stroke="rgb(165,220,135)" stroke-opacity="0.55" stroke-width="0.8"/>
<circle cx="901.50" cy="733.45" r="2.5" fill="rgb(140,210,100)" fill-opacity="0.35" stroke="rgb(165,220,135)" stroke-opacity="0.55" stroke-width="0.8"/>
<circle cx="904.84" cy="741.33" r="2.5" fill="rgb(140,210,100)" fill-opacity="0.35" stroke="rgb(165,220,135)" stroke-opacity="0.55" stroke-width="0.8"/>
<circle cx="908.18" cy="749.22" r="2.5" fill="rgb(140,210,100)" fill-opacity="0.35" stroke="rgb(165,220,135)" stroke-opacity="0.55" stroke-width="0.8"/>
<circle cx="817.95" cy="622.90" r="8.90" fill="rgb(40,140,130)" fill-opacity="0.4" stroke="rgb(110,180,170)" stroke-opacity="0.45" stroke-width="1"/>
<circle cx="871.42" cy="640.00" r="8.50" fill="rgb(40,140,130)" fill-opacity="0.4" stroke="rgb(110,180,170)" stroke-opacity="0.45" stroke-width="1"/>
<circle cx="543.92" cy="97.60" r="8.90" fill="rgb(110,170,90)" fill-opacity="0.5" stroke="rgb(160,220,140)" stroke-opacity="0.55" stroke-width="1"/>
<circle cx="694.30" cy="584.75" r="8.75" fill="rgb(110,170,90)" fill-opacity="0.5" stroke="rgb(160,220,140)" stroke-opacity="0.55" stroke-width="1"/>
<circle cx="714.35" cy="584.40" r="8.75" fill="rgb(110,170,90)" fill-opacity="0.5" stroke="rgb(160,220,140)" stroke-opacity="0.55" stroke-width="1"/>
<circle cx="717.70" cy="608.40" r="11.50" fill="rgb(110,170,90)" fill-opacity="0.5" stroke="rgb(160,220,140)" stroke-opacity="0.55" stroke-width="1"/>
<circle cx="824.64" cy="584.70" r="8.75" fill="rgb(110,170,90)" fill-opacity="0.5" stroke="rgb(160,220,140)" stroke-opacity="0.55" stroke-width="1"/>
<circle cx="871.42" cy="647.00" r="9.00" fill="rgb(110,170,90)" fill-opacity="0.5" stroke="rgb(160,220,140)" stroke-opacity="0.55" stroke-width="1"/>
<circle cx="874.76" cy="678.75" r="11.50" fill="rgb(110,170,90)" fill-opacity="0.5" stroke="rgb(160,220,140)" stroke-opacity="0.55" stroke-width="1"/>
<circle cx="884.79" cy="647.00" r="8.80" fill="rgb(110,170,90)" fill-opacity="0.5" stroke="rgb(160,220,140)" stroke-opacity="0.55" stroke-width="1"/>
<circle cx="891.47" cy="709.80" r="9.00" fill="rgb(110,170,90)" fill-opacity="0.5" stroke="rgb(160,220,140)" stroke-opacity="0.55" stroke-width="1"/>
<circle cx="911.53" cy="757.10" r="9.00" fill="rgb(110,170,90)" fill-opacity="0.5" stroke="rgb(160,220,140)" stroke-opacity="0.55" stroke-width="1"/>
</svg></body></html>
